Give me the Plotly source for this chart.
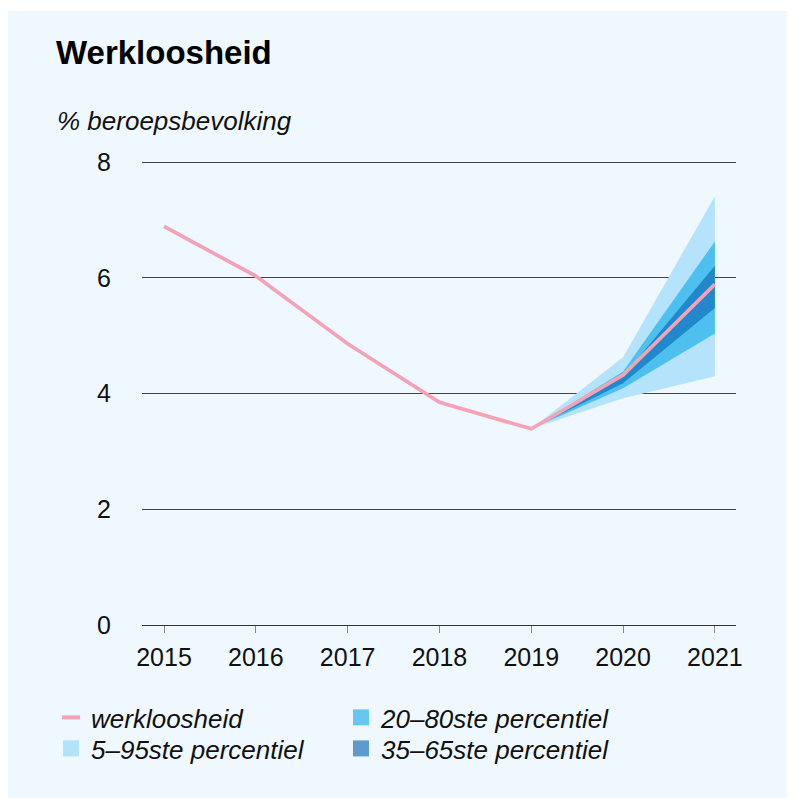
import plotly.graph_objects as go

years = [2015, 2016, 2017, 2018, 2019, 2020, 2021]
werkloosheid = [6.89, 6.03, 4.86, 3.85, 3.39, 4.32, 5.89]

band_years = [2019, 2020, 2021]
p5 = [3.39, 3.92, 4.30]
p95 = [3.39, 4.63, 7.41]
p20 = [3.39, 4.09, 5.04]
p80 = [3.39, 4.38, 6.63]
p35 = [3.39, 4.18, 5.48]
p65 = [3.39, 4.30, 6.21]

y_ticks = [0, 2, 4, 6, 8]

FONT = "Liberation Sans, Arial, sans-serif"
BG = "#eef8fe"

W, H = 795, 798
L, R, T, B = 134, 67, 153, 181
pw, ph = W - L - R, H - T - B


def xp(px):
    return (px - L) / pw


def yp(py):
    return (H - B - py) / ph


fig = go.Figure()

bands = [
    (p5, p95, "#b5e3fb"),
    (p20, p80, "#4ec0f0"),
    (p35, p65, "#2288cc"),
]
for lo, hi, col in bands:
    fig.add_trace(go.Scatter(x=band_years, y=lo, mode="lines", line=dict(width=0),
                             showlegend=False, hoverinfo="skip"))
    fig.add_trace(go.Scatter(x=band_years, y=hi, mode="lines", line=dict(width=0),
                             fill="tonexty", fillcolor=col, showlegend=False, hoverinfo="skip"))

fig.add_trace(go.Scatter(x=years, y=werkloosheid, mode="lines",
                         line=dict(color="#f4a3b6", width=3.7), showlegend=False))

# legend entries (one legend per entry for exact placement)
fig.add_trace(go.Scatter(x=[None], y=[None], mode="markers", name="<i>werkloosheid</i>",
                         marker=dict(symbol="line-ew-open", size=13, color="#f4a3b6",
                                     line=dict(color="#f4a3b6", width=4)),
                         legend="legend"))
fig.add_trace(go.Scatter(x=[None], y=[None], mode="markers", name="<i>5\u201395ste percentiel</i>",
                         marker=dict(symbol="square", size=21, color="#b3e2fb"),
                         legend="legend2"))
fig.add_trace(go.Scatter(x=[None], y=[None], mode="markers", name="<i>20\u201380ste percentiel</i>",
                         marker=dict(symbol="square", size=21, color="#66c8f2"),
                         legend="legend3"))
fig.add_trace(go.Scatter(x=[None], y=[None], mode="markers", name="<i>35\u201365ste percentiel</i>",
                         marker=dict(symbol="square", size=21, color="#5b9bd0"),
                         legend="legend4"))

legend_common = dict(font=dict(family=FONT, size=26, color="#111"),
                     bgcolor="rgba(0,0,0,0)", xanchor="left", yanchor="top",
                     orientation="v", traceorder="normal", itemsizing="trace")

fig.update_layout(
    width=W, height=H,
    margin=dict(l=L, r=R, t=T, b=B, autoexpand=False),
    paper_bgcolor="white",
    plot_bgcolor="rgba(0,0,0,0)",
    font=dict(family=FONT, size=25, color="#111"),
    showlegend=True,
    legend=dict(x=xp(43), y=yp(686), **legend_common),
    legend2=dict(x=xp(43), y=yp(717), **legend_common),
    legend3=dict(x=xp(333), y=yp(686), **legend_common),
    legend4=dict(x=xp(333), y=yp(717), **legend_common),
    xaxis=dict(range=[2014.76, 2021.23], tickmode="array", tickvals=years,
               ticktext=[str(y) for y in years], showgrid=False, zeroline=False,
               showline=True, linecolor="#333", linewidth=1.3,
               ticks="outside", ticklen=7, tickcolor="#888", tickwidth=1.3,
               ticklabelstandoff=3,
               tickfont=dict(size=25, color="#111")),
    yaxis=dict(range=[0, 8.02], tickmode="array", tickvals=y_ticks,
               showgrid=True, gridcolor="#444", gridwidth=1, zeroline=False,
               ticks="", ticklabelstandoff=30, tickfont=dict(size=25, color="#111")),
    shapes=[dict(type="rect", xref="paper", yref="paper",
                 x0=xp(-1), x1=xp(W), y0=yp(H), y1=yp(3),
                 fillcolor=BG, line=dict(width=0), layer="below")],
    annotations=[
        dict(text="<b>Werkloosheid</b>", xref="paper", yref="paper",
             x=xp(46), y=yp(45), xanchor="left", yanchor="middle", showarrow=False,
             font=dict(family=FONT, size=33, color="#000")),
        dict(text="<i>% beroepsbevolking</i>", xref="paper", yref="paper",
             x=xp(47), y=yp(113), xanchor="left", yanchor="middle", showarrow=False,
             font=dict(family=FONT, size=26, color="#111")),
    ],
)

fig.write_html("out.html")
